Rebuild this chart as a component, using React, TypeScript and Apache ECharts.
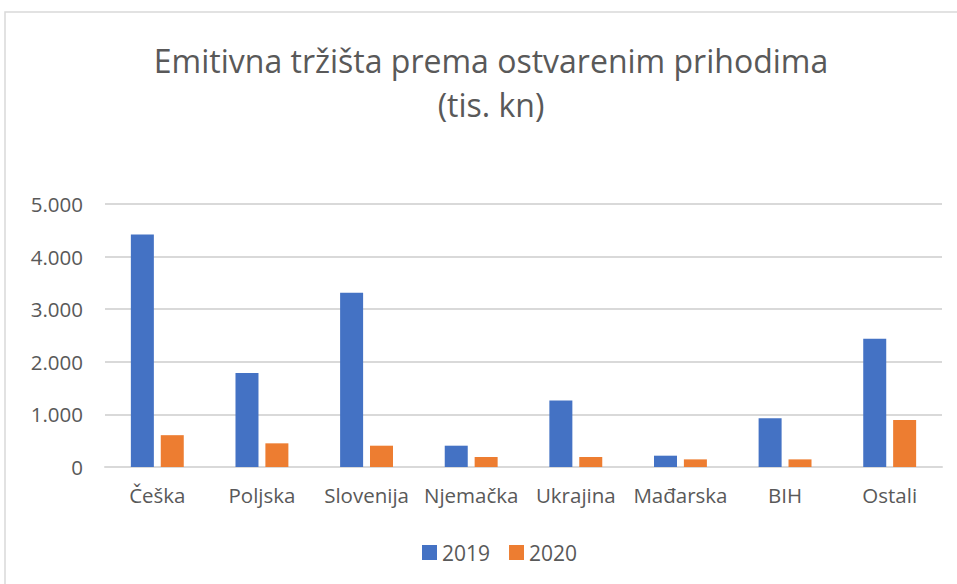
import React, { useEffect, useRef } from "react";
import * as echarts from "echarts";

const categories = ["Češka", "Poljska", "Slovenija", "Njemačka", "Ukrajina", "Mađarska", "BIH", "Ostali"];
const values2019 = [4420, 1785, 3315, 405, 1265, 215, 925, 2440];
const values2020 = [605, 450, 405, 190, 190, 145, 145, 895];
const seriesNames = ["2019", "2020"];
const titleLines = ["Emitivna tržišta prema ostvarenim prihodima", "(tis. kn)"];

const FONT = "'Open Sans', 'Noto Sans', sans-serif";
const TEXT = "#595959";

export default function App() {
  const ref = useRef<HTMLDivElement>(null);
  useEffect(() => {
    if (!ref.current) return;
    const chart = echarts.init(ref.current, undefined, { renderer: "svg" });
    chart.setOption({
      animation: false,
      backgroundColor: "#ffffff",
      textStyle: { fontFamily: FONT },
      graphic: [
        {
          type: "rect",
          shape: { x: 5, y: 12, width: 1000, height: 620 },
          style: { fill: "none", stroke: "#d9d9d9", lineWidth: 1.5 },
          silent: true,
        },
        {
          type: "text",
          x: 491,
          y: 60,
          style: {
            text: titleLines[0],
            font: `32px ${FONT}`,
            fill: TEXT,
            align: "center",
            verticalAlign: "middle",
          },
        },
        {
          type: "text",
          x: 491,
          y: 104,
          style: {
            text: titleLines[1],
            font: `32px ${FONT}`,
            fill: TEXT,
            align: "center",
            verticalAlign: "middle",
          },
        },
      ],
      legend: {
        data: seriesNames,
        top: 537,
        left: 417,
        itemWidth: 15,
        itemHeight: 15,
        itemGap: 19,
        icon: "rect",
        textStyle: { color: TEXT, fontSize: 21, fontFamily: FONT },
      },
      grid: { left: 105, right: 15, top: 204, bottom: 117, containLabel: false },
      xAxis: {
        type: "category",
        data: categories,
        axisLine: { lineStyle: { color: "#d9d9d9", width: 2 } },
        axisTick: { show: false },
        axisLabel: { color: TEXT, fontSize: 20.5, margin: 17, fontFamily: FONT, interval: 0 },
      },
      yAxis: {
        type: "value",
        min: 0,
        max: 5000,
        interval: 1000,
        axisLine: { show: false },
        axisTick: { show: false },
        splitLine: { lineStyle: { color: "#d9d9d9", width: 2 } },
        axisLabel: {
          color: TEXT,
          fontSize: 20.5,
          margin: 22,
          fontFamily: FONT,
          formatter: (v: number) => v.toLocaleString("de-DE"),
        },
      },
      series: [
        {
          name: seriesNames[0],
          type: "bar",
          data: values2019,
          barWidth: 23,
          barGap: "30%",
          itemStyle: { color: "#4472c4" },
        },
        {
          name: seriesNames[1],
          type: "bar",
          data: values2020,
          barWidth: 23,
          itemStyle: { color: "#ed7d31" },
        },
      ],
    });
    return () => chart.dispose();
  }, []);
  return <div ref={ref} style={{ width: 957, height: 584, position: "absolute", left: 0, top: 0 }} />;
}
